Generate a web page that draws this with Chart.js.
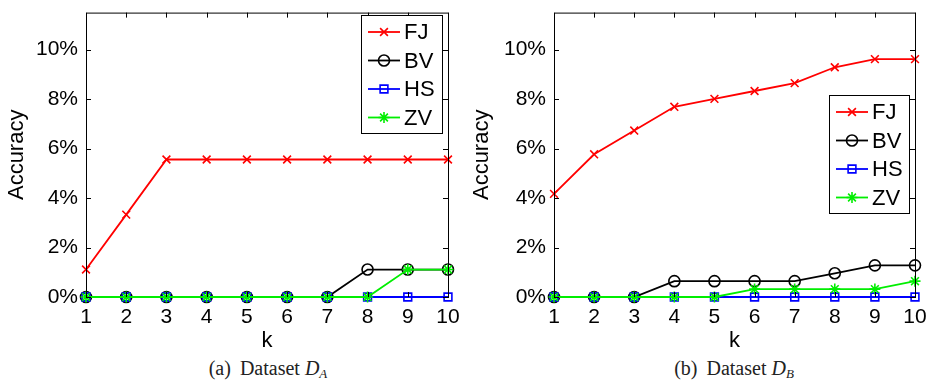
<!DOCTYPE html>
<html>
<head>
<meta charset="utf-8">
<script src="https://cdn.jsdelivr.net/npm/chart.js"></script>
<style>
  body { margin: 0; background: #fff; }
  #wrap { position: relative; width: 929px; height: 381px; }
  .pane { position: absolute; top: 0; height: 350px; }
  .cap { position: absolute; top: 357px; font-family: "Liberation Serif", "DejaVu Serif", serif; font-size: 20px; color: #222; white-space: pre; transform: translateX(-50%); }
  .cap .lab { margin-right: 9px; }
  .cap sub { font-size: 13px; vertical-align: -3px; font-style: italic; }
</style>
</head>
<body>
<div id="wrap">
  <div class="pane" style="left:0;width:465px"><canvas id="chartA" width="465" height="350"></canvas></div>
  <div class="pane" style="left:465px;width:464px"><canvas id="chartB" width="464" height="350"></canvas></div>
  <div class="cap" style="left:268px"><span class="lab">(a)</span>Dataset <i>D</i><sub>A</sub></div>
  <div class="cap" style="left:734px"><span class="lab">(b)</span>Dataset <i>D</i><sub>B</sub></div>
</div>
<script>
var kValues = [1,2,3,4,5,6,7,8,9,10];
var yTicks = [0,2,4,6,8,10];
var names = ["FJ","BV","HS","ZV"];

// dataset A (percent)
var fjA = [1.11,3.33,5.56,5.56,5.56,5.56,5.56,5.56,5.56,5.56];
var bvA = [0,0,0,0,0,0,0,1.11,1.11,1.11];
var hsA = [0,0,0,0,0,0,0,0,0,0];
var zvA = [0,0,0,0,0,0,0,0,1.11,1.11];

// dataset B (percent)
var fjB = [4.17,5.77,6.73,7.69,8.01,8.33,8.65,9.29,9.62,9.62];
var bvB = [0,0,0,0.64,0.64,0.64,0.64,0.96,1.28,1.28];
var hsB = [0,0,0,0,0,0,0,0,0,0];
var zvB = [0,0,0,0,0,0.32,0.32,0.32,0.32,0.64];

var colors = ["#ff0000","#000000","#0000ff","#00ee00"];
var markers = ["crossRot","circle","rect","star"];
var sans = "'Liberation Sans', Arial, sans-serif";

function makeSets(series) {
  return series.map(function(vals, i) {
    return {
      label: names[i],
      data: kValues.map(function(k, j) { return {x: k, y: vals[j]}; }),
      borderColor: colors[i],
      backgroundColor: "rgba(0,0,0,0)",
      pointBorderColor: colors[i],
      pointBackgroundColor: "rgba(0,0,0,0)",
      pointStyle: markers[i],
      pointRadius: 5.5,
      pointBorderWidth: 1.6,
      borderWidth: 1.8,
      order: 3 - i,
      clip: false,
      tension: 0
    };
  });
}

var frame = {
  id: "frame",
  afterDraw: function(chart, args, opts) {
    var ctx = chart.ctx, a = chart.chartArea;
    ctx.save();
    ctx.strokeStyle = "#000";
    ctx.lineWidth = 1;
    ctx.beginPath();
    ctx.moveTo(a.left + 0.5, a.bottom); ctx.lineTo(a.left + 0.5, a.top + 0.5);
    ctx.lineTo(a.right + 0.5, a.top + 0.5); ctx.lineTo(a.right + 0.5, a.bottom);
    kValues.forEach(function(k) {
      var x = Math.round(chart.scales.x.getPixelForValue(k)) + 0.5;
      ctx.moveTo(x, a.bottom); ctx.lineTo(x, a.bottom - 5);
      ctx.moveTo(x, a.top); ctx.lineTo(x, a.top + 5);
    });
    yTicks.forEach(function(v) {
      var y = Math.round(chart.scales.y.getPixelForValue(v)) + 0.5;
      ctx.moveTo(a.left, y); ctx.lineTo(a.left + 5, y);
      ctx.moveTo(a.right, y); ctx.lineTo(a.right - 5, y);
    });
    ctx.stroke();

    // legend box
    var L = opts.box;
    ctx.fillStyle = "#fff";
    ctx.fillRect(L.x, L.y, L.w, L.h);
    ctx.strokeRect(L.x + 0.5, L.y + 0.5, L.w, L.h);
    ctx.font = "22px " + sans;
    ctx.textBaseline = "middle";
    names.forEach(function(n, i) {
      var y = L.y + 17 + i * 28.5;
      ctx.strokeStyle = colors[i];
      ctx.lineWidth = 1.8;
      ctx.beginPath();
      ctx.moveTo(L.x + 7, y); ctx.lineTo(L.x + 39, y);
      ctx.stroke();
      ctx.lineWidth = 1.6;
      ctx.fillStyle = "rgba(0,0,0,0)";
      Chart.helpers.drawPoint(ctx, {pointStyle: markers[i], rotation: 0, radius: 5.5, borderWidth: 1.6}, L.x + 23, y);
      ctx.fillStyle = "#000";
      ctx.fillText(n, L.x + 43, y + 1);
    });
    ctx.restore();
  }
};

function makeChart(id, series, leftW, rightPad, legendBox) {
  return new Chart(id, {
    type: "line",
    data: { datasets: makeSets(series) },
    plugins: [frame],
    options: {
      responsive: false,
      animation: false,
      layout: { padding: { top: 10, right: rightPad, left: 0, bottom: 0 } },
      plugins: {
        legend: { display: false },
        tooltip: { enabled: false },
        frame: { box: legendBox }
      },
      scales: {
        x: {
          type: "linear", min: 1, max: 10,
          grid: { display: false }, border: { display: true, color: "#000", width: 1 },
          afterBuildTicks: function(s) { s.ticks = kValues.map(function(v) { return {value: v}; }); },
          afterFit: function(s) { s.height = 53; },
          ticks: { color: "#000", font: { size: 21, family: sans }, padding: 0, maxRotation: 0, autoSkip: false },
          title: { display: true, text: "k", color: "#000", font: { size: 22, family: sans }, padding: { top: 0, bottom: -4 } }
        },
        y: {
          min: 0, max: 11.5,
          grid: { display: false }, border: { display: false },
          afterBuildTicks: function(s) { s.ticks = yTicks.map(function(v) { return {value: v}; }); },
          afterFit: function(s) { s.width = leftW; },
          ticks: { color: "#000", font: { size: 21, family: sans }, padding: 0, callback: function(v) { return v + "%"; } },
          title: { display: true, text: "Accuracy", color: "#000", font: { size: 22, family: sans }, padding: { top: 4, bottom: 0 } }
        }
      }
    }
  });
}

makeChart("chartA", [fjA, bvA, hsA, zvA], 86, 17, {x: 361, y: 15, w: 81, h: 118});
makeChart("chartB", [fjB, bvB, hsB, zvB], 89, 14, {x: 364, y: 95, w: 80, h: 118});
</script>
</body>
</html>
